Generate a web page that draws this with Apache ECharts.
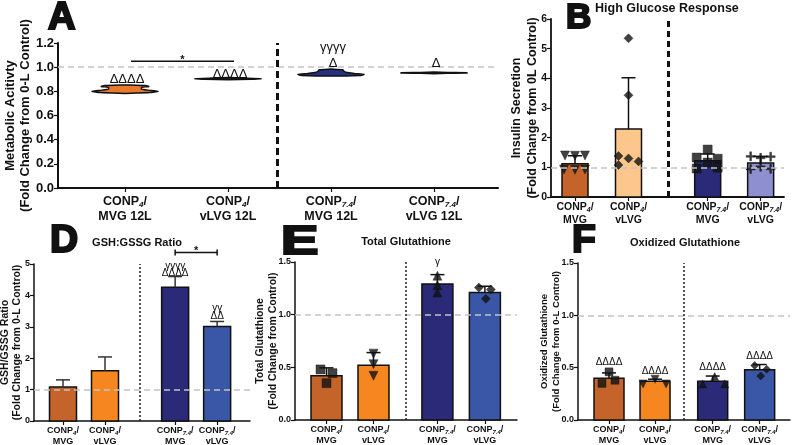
<!DOCTYPE html>
<html><head><meta charset="utf-8">
<script src="https://cdn.jsdelivr.net/npm/echarts@6/dist/echarts.min.js"></script>
<style>html,body{margin:0;padding:0;background:#fff}#c{width:793px;height:445px}</style>
</head><body><div id="c"></div>
<script>
// ================= DATA =================
const subs = ['4', '4', '7.4', '7.4'];
const line2A = ['MVG 12L', 'vLVG 12L', 'MVG 12L', 'vLVG 12L'];
const line2 = ['MVG', 'vLVG', 'MVG', 'vLVG'];

// Panel A: metabolic activity, violin profiles [value, relative density]
const violinA_CONP4_MVG  = [[0.783,0],[0.79,0.75],[0.80,1.0],[0.81,0.7],[0.818,0.5],[0.832,0.5],[0.84,0.72],[0.848,0.62],[0.853,0]];
const violinA_CONP4_vLVG = [[0.896,0],[0.90,0.7],[0.905,1.0],[0.91,0.45],[0.914,0]];
const violinA_CONP74_MVG = [[0.926,0],[0.932,0.9],[0.94,1.0],[0.948,0.7],[0.958,0.45],[0.97,0.38],[0.978,0.36],[0.984,0]];
const violinA_CONP74_vLVG= [[0.946,0],[0.949,0.4],[0.951,1.0],[0.954,1.0],[0.956,0.4],[0.959,0]];
const annA_text  = ['ΔΔΔΔ', 'ΔΔΔΔ', 'Δ', 'γγγγ', 'Δ'];
const annA_group = [0, 1, 2, 2, 3];
const annA_level = [0.895, 0.94, 1.035, 1.165, 1.035];
const sigA_level = 1.05;

// Panel B: insulin secretion (high glucose)
const meanB = [1.12, 2.29, 1.22, 1.15];
const sdB   = [0.27, 1.73, 0.23, 0.22];
const ptsB  = [[1.40,1.39,1.40,0.93,0.92,0.93],
               [5.35,3.43,1.38,1.30,1.20,1.08],
               [1.60,1.33,1.29,1.16,0.96,0.99],
               [1.37,1.32,1.36,0.94,1.02,0.95]];

// Panel D: GSH/GSSG ratio
const meanD = [1.08, 1.60, 4.26, 3.01];
const sdD   = [0.23, 0.44, 0.34, 0.16];
const annD_text  = ['γγγγ', 'ΔΔΔΔ', 'γγ', 'ΔΔ'];
const annD_group = [2, 2, 3, 3];
const annD_level = [4.93, 4.72, 3.58, 3.33];
const sigD_level = 5.37;

// Panel E: total glutathione
const meanE = [0.42, 0.52, 1.29, 1.21];
const sdE   = [0.075, 0.12, 0.09, 0.06];
const ptsE  = [[0.48,0.445,0.35],[0.63,0.53,0.42],[1.37,1.28,1.21],[1.257,1.238,1.15]];
const annE_text = ['γ'], annE_group = [2], annE_level = [1.50];

// Panel F: oxidized glutathione
const meanF = [0.40, 0.37, 0.37, 0.48];
const sdF   = [0.05, 0.02, 0.05, 0.05];
const ptsF  = [[0.46,0.35,0.38],[0.39,0.345,0.345],[0.415,0.345,0.345],[0.52,0.485,0.42]];
const annF_text = ['ΔΔΔΔ','ΔΔΔΔ','ΔΔΔΔ','ΔΔΔΔ'], annF_group = [0,1,2,3], annF_level = [0.55,0.47,0.50,0.61];

// ================= LAYOUT / STYLE =================
const FONT = '"Liberation Sans", Arial, Helvetica, sans-serif';
const INK = '#111';
const jitB = [[-10,0,10,-11,0,10],[0,0,-10,0,10,-10],[0,-11,10,0,-11,10],[-10,0,10,-10,0,10]];
const jitE = [[-6,6,0],[0,0,0],[0,0,0],[-6,6,1]];
const jitF = [[0,-7,6],[0,-12,11],[2,-10,12],[-5,7,1]];
const symE = ['rect', 'triangle', 'triangle', 'diamond'];
const rotE = [0, 180, 0, 0];
const symB = ['triangle', 'diamond', 'rect', 'path://M4,0H6V4H10V6H6V10H4V6H0V4H4Z'];
const rotB = [180, 0, 0, 0];
const colB = ['#c4642a', '#fdc68d', '#2a2a78', '#8d8fd1'];
const colG = ['#c4642a', '#f6861f', '#2a2a78', '#3a56a6'];
const colA = ['#e8792d', '#1e1e1e', '#26307f', '#111'];

const PANELS = [
  {id:'A', grid:{left:58, top:43, width:440, height:145}, zero:125, unit:103, pos:[0,1,2,3], vpx:277, lines:line2A,
   fs:12.5, lh:15, margin:6, ymax:1.2, yint:0.2, yfs:13, dec:1,
   name:'Metabolic Acitivty\n(Fold Change from 0-L Control)', nfs:13, nlh:15, ngap:25.5, axw:2,
   vline:{color:'#111', width:3, type:[7,4]}},
  {id:'B', grid:{left:551, top:19, width:233, height:178}, zero:575, unit:53.5, pos:[0,1,2.48,3.47], vpx:668, lines:line2,
   fs:10.5, lh:13, margin:4, ymax:6, yint:1, yfs:10.5, dec:0,
   name:'Insulin Secretion\n(Fold Change from 0L Control)', nfs:12.5, nlh:16, ngap:10, axw:1.8,
   vline:{color:'#111', width:3, type:[6,4]}},
  {id:'D', grid:{left:34, top:264, width:216, height:157}, zero:63, unit:42, pos:[0,1,2.67,3.67], vpx:140, lines:line2,
   fs:9, lh:11, margin:4, ymax:5, yint:1, yfs:9, dec:0,
   name:'GSH/GSSG Ratio\n(Fold Change from 0-L Control)', nfs:10.5, nlh:12, ngap:11, axw:1.5,
   vline:{color:'#222', width:1.5, type:[2,2]}},
  {id:'E', grid:{left:295, top:262, width:222, height:158}, zero:326.5, unit:47, pos:[0,1,2.36,3.37], vpx:406, lines:line2,
   fs:9, lh:11, margin:4, ymax:1.5, yint:0.5, yfs:9, dec:1,
   name:'Total Glutathione\n(Fold Change from Control)', nfs:10.5, nlh:13, ngap:15.5, axw:1.5,
   vline:{color:'#222', width:1.5, type:[2,2]}},
  {id:'F', grid:{left:578, top:263, width:212, height:157}, zero:609, unit:46.5, pos:[0,0.99,2.23,3.24], vpx:684, lines:line2,
   fs:9, lh:11, margin:4, ymax:1.5, yint:0.5, yfs:9, dec:1,
   name:'Oxidized Glutathione\n(Fold Change from 0-L Control)', nfs:9.5, nlh:12, ngap:16, axw:1.5,
   vline:{color:'#222', width:1.5, type:[2,2]}}
];

const grids = [], xAxes = [], yAxes = [], series = [];
PANELS.forEach((p, gi) => {
  grids.push(Object.assign({containLabel:false, outerBoundsMode:'none'}, p.grid));
  const xmin = (p.grid.left - p.zero) / p.unit;
  const xmax = (p.grid.left + p.grid.width - p.zero) / p.unit;
  xAxes.push({
    gridIndex: gi, type:'value', min:xmin, max:xmax,
    axisLine:{show:true, onZero:false, lineStyle:{color:INK, width:p.axw}},
    splitLine:{show:false},
    axisTick:{show:true, customValues:p.pos, length:4, lineStyle:{color:INK, width:1.2}},
    axisLabel:{
      customValues:p.pos, margin:p.margin, interval:0, hideOverlap:false,
      formatter:(v) => {
        const i = p.pos.findIndex(q => Math.abs(q - v) < 1e-3);
        if (i < 0) return '';
        return '{a|CONP}{s|' + subs[i] + '}{a|/}\n{a|' + p.lines[i] + '}';
      },
      rich:{
        a:{fontFamily:FONT, fontWeight:'bold', fontSize:p.fs, lineHeight:p.lh, color:INK},
        s:{fontFamily:FONT, fontWeight:'bold', fontStyle:'italic', fontSize:Math.round(p.fs*0.62), lineHeight:Math.round(p.fs*0.62), verticalAlign:'bottom', color:INK}
      }
    }
  });
  yAxes.push({
    gridIndex: gi, type:'value', min:0, max:p.ymax, interval:p.yint,
    axisLine:{show:true, onZero:false, lineStyle:{color:INK, width:p.axw}},
    axisTick:{show:true, length:4, lineStyle:{color:INK, width:1.2}},
    splitLine:{show:false},
    axisLabel:{fontFamily:FONT, fontWeight:'bold', fontSize:p.yfs, color:INK, margin:4,
      formatter:(v) => v.toFixed(p.dec)},
    name:p.name, nameLocation:'middle', nameRotate:90, nameGap:p.ngap, nameMoveOverlap:false,
    nameTextStyle:{fontFamily:FONT, fontWeight:'bold', fontSize:p.nfs, lineHeight:p.nlh, color:INK, align:'center'}
  });
  // reference lines
  series.push({
    type:'line', xAxisIndex:gi, yAxisIndex:gi, data:[], silent:true,
    markLine:{silent:true, symbol:'none', label:{show:false}, animation:false,
      data:[
        {yAxis:1, lineStyle:{color:'#c4c4c4', width:1.6, type:[6,4]}},
        {xAxis:(p.vpx - p.zero)/p.unit, lineStyle:p.vline}
      ]}
  });
});

function barSeries(gi, means, colors, wpx) {
  const pos = PANELS[gi].pos;
  return {type:'custom', xAxisIndex:gi, yAxisIndex:gi, z:2,
    data: means.map((m, i) => [pos[i], m, i]),
    renderItem:(params, api) => {
      const x = api.value(0), v = api.value(1), i = api.value(2);
      const p0 = api.coord([x, 0]), p1 = api.coord([x, v]);
      return {type:'rect', shape:{x:p0[0]-wpx/2, y:p1[1], width:wpx, height:p0[1]-p1[1]},
        style:{fill:colors[i], stroke:INK, lineWidth:1.5}};
    }};
}
function errSeries(gi, means, sds, cap, color) {
  const pos = PANELS[gi].pos;
  return {type:'custom', xAxisIndex:gi, yAxisIndex:gi, z:3,
    data: means.map((m, i) => [pos[i], m, sds[i]]),
    renderItem:(params, api) => {
      const x = api.value(0), m = api.value(1), s = api.value(2);
      const p0 = api.coord([x, m]), p1 = api.coord([x, m + s]);
      return {type:'group', children:[
        {type:'line', shape:{x1:p0[0], y1:p0[1], x2:p1[0], y2:p1[1]}, style:{stroke:color, lineWidth:1.5}},
        {type:'line', shape:{x1:p1[0]-cap, y1:p1[1], x2:p1[0]+cap, y2:p1[1]}, style:{stroke:color, lineWidth:1.5}}
      ]};
    }};
}
function pointSeries(gi, pts, jit, syms, rots, size) {
  const p = PANELS[gi];
  return pts.map((arr, g) => ({
    type:'scatter', xAxisIndex:gi, yAxisIndex:gi, z:4,
    symbol:syms[g], symbolRotate:rots[g], symbolSize:size,
    itemStyle:{color:INK, borderColor:INK, borderWidth:0.5},
    data: arr.map((v, k) => [p.pos[g] + jit[g][k] / p.unit, v])
  }));
}
function annSeries(gi, texts, groups, levels, fs, dxpx) {
  const p = PANELS[gi];
  return {type:'custom', xAxisIndex:gi, yAxisIndex:gi, z:5, clip:false,
    data: texts.map((t, i) => [p.pos[groups[i]], levels[i], i]),
    renderItem:(params, api) => {
      const c = api.coord([api.value(0), api.value(1)]);
      const i = api.value(2);
      return {type:'text', x:c[0] + (dxpx || 0), y:c[1],
        style:{text:texts[i], font:'normal ' + fs + 'px ' + FONT, fill:INK, align:'center', verticalAlign:'middle'}};
    }};
}
function sigSeries(gi, g1, g2, level, ends, dxpx) {
  const p = PANELS[gi];
  return {type:'custom', xAxisIndex:gi, yAxisIndex:gi, z:5, clip:false,
    data:[[p.pos[g1], p.pos[g2], level]],
    renderItem:(params, api) => {
      const a = api.coord([api.value(0), api.value(2)]);
      const b = api.coord([api.value(1), api.value(2)]);
      const x1 = a[0] + dxpx, x2 = b[0] + dxpx, y = a[1];
      const ch = [
        {type:'line', shape:{x1:x1, y1:y, x2:x2, y2:y}, style:{stroke:INK, lineWidth:1.5}},
        {type:'text', x:(x1+x2)/2, y:y + 4, style:{text:'*', font:'bold 11px ' + FONT, fill:INK, align:'center', verticalAlign:'bottom'}}
      ];
      if (ends) {
        ch.push({type:'line', shape:{x1:x1, y1:y-3, x2:x1, y2:y+3}, style:{stroke:INK, lineWidth:1.5}});
        ch.push({type:'line', shape:{x1:x2, y1:y-3, x2:x2, y2:y+3}, style:{stroke:INK, lineWidth:1.5}});
      }
      return {type:'group', children:ch};
    }};
}

// Panel A violins
const violinsA = [violinA_CONP4_MVG, violinA_CONP4_vLVG, violinA_CONP74_MVG, violinA_CONP74_vLVG];
series.push({type:'custom', xAxisIndex:0, yAxisIndex:0, z:3,
  data: violinsA.map((v, i) => [PANELS[0].pos[i], v[0][0], i]),
  renderItem:(params, api) => {
    const i = api.value(2), x = api.value(0);
    const prof = violinsA[i];
    const right = [], left = [];
    prof.forEach(([v, d]) => {
      const c = api.coord([x, v]);
      right.push([c[0] + d * 33, c[1]]);
      left.unshift([c[0] - d * 33, c[1]]);
    });
    return {type:'polygon', shape:{points:right.concat(left), smooth:0.2},
      style:{fill:colA[i], stroke:INK, lineWidth:1.5}};
  }});
series.push(annSeries(0, annA_text, annA_group, annA_level, 13, 2));
series.push(sigSeries(0, 0, 1, sigA_level, false, 6));

// Panel B
series.push(barSeries(1, meanB, colB, 26));
series.push(errSeries(1, meanB, sdB, 7, INK));
pointSeries(1, ptsB, jitB, symB, rotB, 9).forEach(s => series.push(s));

// Panel D
series.push(barSeries(2, meanD, colG, 27));
series.push(errSeries(2, meanD, sdD, 7, '#333'));
series.push(annSeries(2, annD_text, annD_group, annD_level, 10, 0));
series.push(sigSeries(2, 2, 3, sigD_level, true, 0));

// Panel E
series.push(barSeries(3, meanE, colG, 31));
series.push(errSeries(3, meanE, sdE, 7, INK));
pointSeries(3, ptsE, jitE, symE, rotE, 9).forEach(s => series.push(s));
series.push(annSeries(3, annE_text, annE_group, annE_level, 10, 0));

// Panel F
series.push(barSeries(4, meanF, colG, 30));
series.push(errSeries(4, meanF, sdF, 7, INK));
pointSeries(4, ptsF, jitF, symE, rotE, 8).forEach(s => series.push(s));
series.push(annSeries(4, annF_text, annF_group, annF_level, 10, 0));

function letter(t, x, y, fs, sx) {
  return {type:'text', x:x, y:y, scaleX:sx || 1, originX:0, originY:0, style:{text:t, font:'bold ' + fs + 'px ' + FONT,
    fill:INK, stroke:INK, lineWidth:2.2, align:'left', verticalAlign:'middle'}};
}
function ttl(t, x, y, fs, al) {
  return {type:'text', x:x, y:y, style:{text:t, font:'bold ' + fs + 'px ' + FONT, fill:INK, align:al || 'center', verticalAlign:'middle'}};
}

const chart = echarts.init(document.getElementById('c'), null, {renderer:'canvas'});
chart.setOption({
  animation:false,
  backgroundColor:'#fff',
  grid:grids, xAxis:xAxes, yAxis:yAxes, series:series,
  graphic:[
    letter('A', 48, 19, 38),
    letter('B', 566, 18, 35),
    letter('D', 50, 241, 39),
    letter('E', 281, 243, 40, 1.4),
    letter('F', 572, 241, 39),
    ttl('High Glucose Response', 595, 9, 12.5, 'left'),
    ttl('GSH:GSSG Ratio', 137, 243, 11),
    ttl('Total Glutathione', 406, 242, 11),
    ttl('Oxidized Glutathione', 685, 243, 11)
  ]
});
</script></body></html>
